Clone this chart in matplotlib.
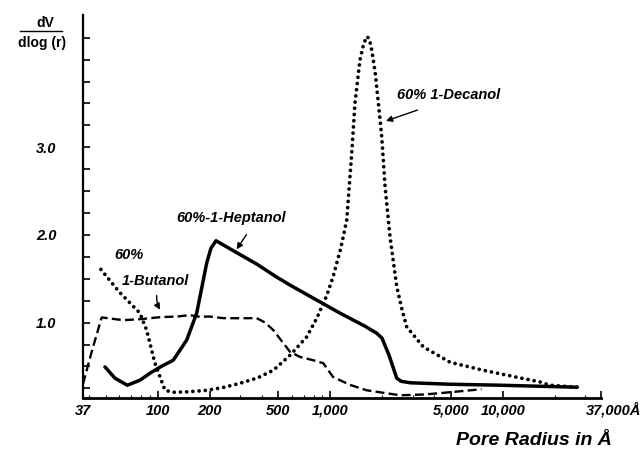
import numpy as np
import matplotlib
matplotlib.use("Agg")
import matplotlib.pyplot as plt
from matplotlib.ticker import FixedLocator, NullFormatter

plt.rcParams['font.family'] = ['Liberation Sans', 'DejaVu Sans']

# 60% 1-Heptanol (solid)
hept_r = [49.6, 56.7, 66.8, 79.1, 90.4, 105, 123.3, 147.4, 168.5, 192.5, 203.9, 218,
          277, 375, 489.6, 585, 816, 1139, 1589, 1857, 1993, 2188, 2425, 2568, 2895,
          4936, 9612, 26820]
hept_v = [0.495, 0.366, 0.286, 0.343, 0.423, 0.50, 0.571, 0.80, 1.108, 1.679, 1.850, 1.934,
          1.816, 1.668, 1.519, 1.428, 1.268, 1.108, 0.959, 0.879, 0.822, 0.628, 0.366, 0.331,
          0.314, 0.297, 0.286, 0.263]

# 60% 1-Decanol (dotted)
dec_r = [47.0, 60, 79.1, 86.5, 96.6, 110.4, 123, 150, 192.5, 240, 300, 380, 468, 585, 730,
         835, 950, 1037, 1150, 1245, 1331, 1390, 1486, 1560, 1625, 1680, 1737, 1820, 1897,
         1985, 2075, 2217, 2425, 2600, 2770, 3456, 4936, 7663, 12010, 16390, 18720, 26820]
dec_v = [1.607, 1.35, 1.108, 0.914, 0.537, 0.228, 0.206, 0.21, 0.228, 0.26, 0.308, 0.37, 0.457,
         0.628, 0.837, 1.05, 1.30, 1.52, 1.85, 2.17, 2.935, 3.507, 4.0, 4.18, 4.264, 4.24, 4.112,
         3.85, 3.507, 3.122, 2.551, 1.979, 1.408, 1.15, 0.951, 0.723, 0.548, 0.457, 0.377, 0.323,
         0.286, 0.263]

# 60% 1-Butanol (dashed)
but_r = [37, 42, 47.5, 63.3, 80, 103.3, 130, 154, 176, 200, 239, 300, 375, 420, 468, 585,
         668, 800, 911, 954, 1037, 1300, 1625, 2534, 3500, 4936, 7500]
but_v = [0.30, 0.70, 1.059, 1.028, 1.04, 1.062, 1.07, 1.085, 1.066, 1.07, 1.051, 1.05, 1.051,
         1.00, 0.914, 0.666, 0.609, 0.57, 0.537, 0.48, 0.380, 0.29, 0.228, 0.171, 0.18, 0.206, 0.24]

xticks = [37, 100, 200, 500, 1000, 5000, 10000, 37000]
xlabels = ['37', '100', '200', '500', '1,000', '5,000', '10,000', '']
ymajor = [1.0, 2.0, 3.0]

fig = plt.figure(figsize=(6.43, 4.53), dpi=100)
ax = fig.add_axes([0.129, 0.121, 0.806, 0.846])

ax.plot(hept_r, hept_v, color='black', lw=2.5, solid_capstyle='round', solid_joinstyle='round')
ax.plot(dec_r, dec_v, color='black', lw=2.7, linestyle=(0, (0.01, 1.65)), dash_capstyle='round')
ax.plot(but_r, but_v, color='black', lw=1.7, linestyle=(0, (3.8, 1.8)))

ax.set_xscale('log')
ax.set_xlim(37, 37000)
ax.set_ylim(0.138, 4.51)

ax.xaxis.set_major_locator(FixedLocator(xticks))
ax.set_xticklabels(xlabels)
ax.xaxis.set_minor_locator(FixedLocator([40, 50, 60, 70, 80, 90, 300, 400, 600, 700, 800, 900,
                                         2000, 3000, 4000, 20000, 30000]))
ax.xaxis.set_minor_formatter(NullFormatter())
yt = np.arange(0.25, 4.5, 0.25)
ax.set_yticks(yt)
ax.set_yticklabels(['%.1f' % t if t in ymajor else '' for t in yt])

for lab in ax.get_xticklabels() + ax.get_yticklabels():
    lab.set_fontweight('bold')
    lab.set_fontstyle('italic')
    lab.set_fontsize(10.5)

ax.tick_params(axis='x', which='major', direction='in', length=5, width=1.2, pad=4)
ax.tick_params(axis='x', which='minor', direction='in', length=2, width=0.8)
ax.tick_params(axis='y', which='major', direction='in', length=5, width=1.2, pad=19)

ax.spines['top'].set_visible(False)
ax.spines['right'].set_visible(False)
ax.spines['left'].set_linewidth(1.6)
ax.spines['bottom'].set_linewidth(2.0)

# last tick label, shifted so it stays inside the figure
fig.text(0.998, 0.095, '37,000Å', ha='right', va='center', fontsize=10.5,
         fontweight='bold', fontstyle='italic')

# y axis label as a fraction
fig.text(0.0700, 0.950, 'dV', ha='center', va='center', fontsize=10, fontweight='bold')
fig.add_artist(plt.Line2D([0.031, 0.097], [0.932, 0.932], color='black', lw=1.0))
fig.text(0.0655, 0.906, 'dlog (r)', ha='center', va='center', fontsize=10, fontweight='bold')

fig.text(0.952, 0.028, 'Pore Radius in Å', ha='right', va='center', fontsize=14,
         fontweight='bold', fontstyle='italic')

tkw = dict(fontsize=10.5, fontweight='bold', fontstyle='italic', ha='center', va='center')
ax.text(266, 2.19, '60%-1-Heptanol', **tkw)
ax.annotate('', xy=(281, 1.81), xytext=(334, 2.03),
            arrowprops=dict(arrowstyle='-|>', color='black', lw=1.0, mutation_scale=9))
ax.text(68.3, 1.77, '60%', **tkw)
ax.text(97.9, 1.477, '1-Butanol', **tkw)
ax.annotate('', xy=(105.6, 1.12), xytext=(99.2, 1.34),
            arrowprops=dict(arrowstyle='-|>', color='black', lw=1.0, mutation_scale=9,
                            connectionstyle='arc3,rad=0.2'))
ax.text(4870, 3.60, '60% 1-Decanol', **tkw)
ax.annotate('', xy=(2028, 3.29), xytext=(3308, 3.435),
            arrowprops=dict(arrowstyle='-|>', color='black', lw=1.0, mutation_scale=9))

fig.savefig('out.png', dpi=100)
